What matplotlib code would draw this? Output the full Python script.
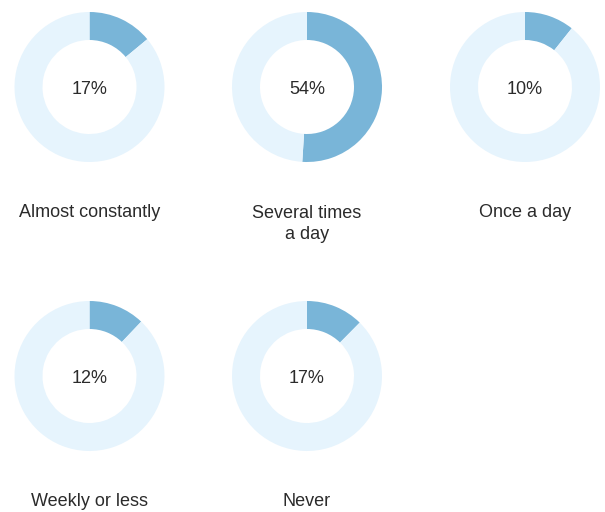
import matplotlib
matplotlib.use("Agg")
import matplotlib.pyplot as plt

categories = ["Almost constantly", "Several times\na day", "Once a day", "Weekly or less", "Never"]
pct_labels = ["17%", "54%", "10%", "12%", "17%"]
# wedge shares as drawn in the picture (they do not exactly match the printed labels)
shares = [14.0, 51.0, 10.7, 12.1, 12.4]

W, H = 605, 512
plt.rcParams["font.family"] = ["Liberation Sans", "DejaVu Sans"]
fig = plt.figure(figsize=(W / 100, H / 100), dpi=100)
fig.patch.set_facecolor("white")

dark = "#79b5d8"
light = "#e6f4fd"
txt = "#2b2b2b"

centers = [(89.5, 87), (307, 87), (525, 87), (89.5, 376), (307, 376)]
R = 75
label_base = [217, 217, 217, 506, 506]
line_px = 22

for (cx, cy), v, pl, cat, lb in zip(centers, shares, pct_labels, categories, label_base):
    ax = fig.add_axes([(cx - R) / W, (H - cy - R) / H, 2 * R / W, 2 * R / H])
    ax.pie([v, 100 - v], colors=[dark, light], startangle=90, counterclock=False,
           radius=1.0, wedgeprops=dict(width=28 / 75, linewidth=0))
    ax.set_xlim(-1, 1)
    ax.set_ylim(-1, 1)
    ax.set_aspect("equal")
    ax.axis("off")
    ax.text(0, -7 / 75, pl, ha="center", va="baseline", fontsize=13, color=txt)
    nl = cat.count("\n")
    fig.text(cx / W, 1 - (lb + line_px * nl) / H, cat, ha="center", va="baseline",
             fontsize=13, color=txt, linespacing=1.32)

fig.savefig("out.png", dpi=100, facecolor="white")
